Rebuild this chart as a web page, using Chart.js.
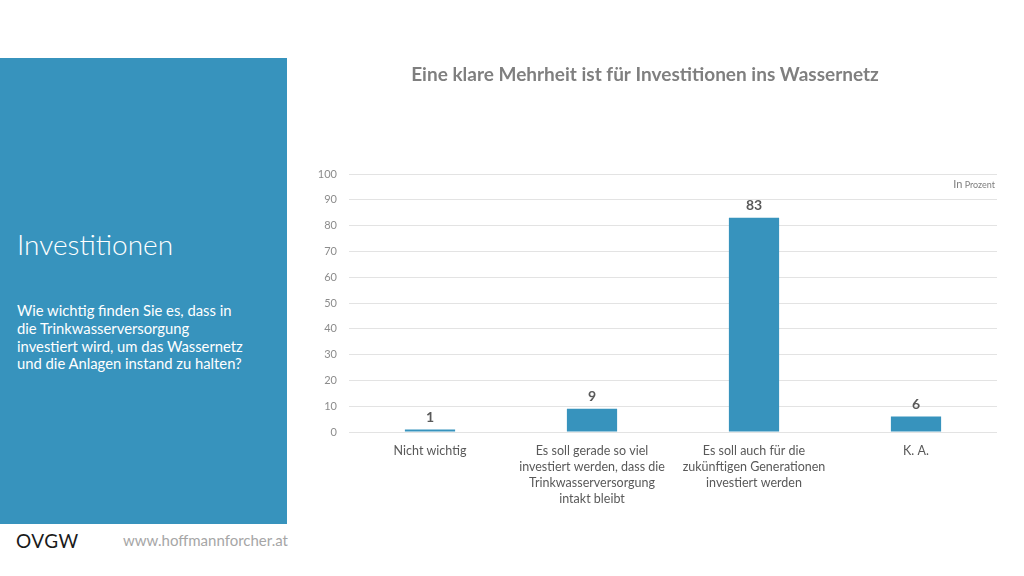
<!DOCTYPE html>
<html>
<head>
<meta charset="utf-8">
<script src="https://cdn.jsdelivr.net/npm/chart.js@4"></script>
<style>
  body { margin: 0; width: 1024px; height: 576px; background: #fff; font-family: Lato, "Open Sans", sans-serif; position: relative; overflow: hidden; }
  #panel { position: absolute; left: 0; top: 58px; width: 287px; height: 466px; background: #3793bd; color: #fff; }
  #panel h1 { position: absolute; left: 17px; top: 169px; margin: 0; font-weight: 300; font-size: 28px; }
  #panel p { position: absolute; left: 17px; top: 244px; margin: 0; font-size: 14.8px; line-height: 17.8px; width: 270px; white-space: nowrap; }
  #logo { position: absolute; left: 16px; top: 529px; font-size: 19px; color: #1a1a1a; letter-spacing: 0.5px; }
  #url { position: absolute; left: 123px; top: 531px; font-size: 15px; color: #a6a6a6; }
  #wrap { position: absolute; left: 0; top: 0; width: 1024px; height: 576px; }
</style>
</head>
<body>
<div id="panel">
  <h1>Investitionen</h1>
  <p>Wie wichtig finden Sie es, dass in<br>die Trinkwasserversorgung<br>investiert wird, um das Wassernetz<br>und die Anlagen instand zu halten?</p>
</div>
<div id="logo">OVGW</div>
<div id="url">www.hoffmannforcher.at</div>
<div id="wrap"><canvas id="chart" width="1024" height="576"></canvas></div>
<script>
const categories = [
  ["Nicht wichtig"],
  ["Es soll gerade so viel", "investiert werden, dass die", "Trinkwasserversorgung", "intakt bleibt"],
  ["Es soll auch für die", "zukünftigen Generationen", "investiert werden"],
  ["K. A."]
];
const percentValues = [1, 9, 83, 6];
const yTicks = [0, 10, 20, 30, 40, 50, 60, 70, 80, 90, 100];

const chartTitle = "Eine klare Mehrheit ist für Investitionen ins Wassernetz";

// title, value labels and unit note
const extras = {
  id: "extras",
  afterDatasetsDraw(chart) {
    const ctx = chart.ctx;
    ctx.save();
    ctx.fillStyle = "#7f7f7f";
    ctx.font = "bold 19px Lato, sans-serif";
    ctx.textAlign = "center";
    ctx.textBaseline = "middle";
    ctx.fillText(chartTitle, 645, 75);

    ctx.fillStyle = "#595959";
    ctx.font = "bold 14px Lato, sans-serif";
    ctx.textBaseline = "bottom";
    chart.getDatasetMeta(0).data.forEach((bar, i) => {
      ctx.fillText(percentValues[i], bar.x, bar.y - 5);
    });

    ctx.fillStyle = "#7f7f7f";
    ctx.textAlign = "right";
    ctx.textBaseline = "alphabetic";
    ctx.font = "9px Lato, sans-serif";
    ctx.fillText("Prozent", 995, 188);
    const w = ctx.measureText(" Prozent").width;
    ctx.font = "11px Lato, sans-serif";
    ctx.fillText("In", 995 - w, 188);
    ctx.restore();
  }
};

const config = {
  type: "bar",
  data: {
    labels: categories,
    datasets: [{
      data: percentValues,
      backgroundColor: "#3793bd",
      barPercentage: 0.62,
      categoryPercentage: 0.5
    }]
  },
  options: {
    responsive: false,
    animation: false,
    layout: { padding: { left: 300, right: 27, top: 174, bottom: 0 } },
    plugins: { legend: { display: false }, tooltip: { enabled: false } },
    scales: {
      x: {
        grid: { display: false },
        border: { display: false },
        ticks: {
          color: "#595959",
          font: { family: "Lato, sans-serif", size: 12.5, lineHeight: 1.28 },
          padding: 3,
          maxRotation: 0,
          autoSkip: false
        },
        afterFit: s => { s.height = 144; }
      },
      y: {
        min: 0,
        max: 100,
        afterBuildTicks: s => { s.ticks = yTicks.map(v => ({ value: v })); },
        grid: { color: "#e3e3e3", drawTicks: false },
        border: { display: false },
        ticks: {
          color: "#8c8c8c",
          font: { family: "Lato, sans-serif", size: 11 },
          padding: 12
        },
        afterFit: s => { s.width = 49; }
      }
    }
  },
  plugins: [extras]
};

var myChart = new Chart(document.getElementById("chart"), config);
</script>
</body>
</html>
